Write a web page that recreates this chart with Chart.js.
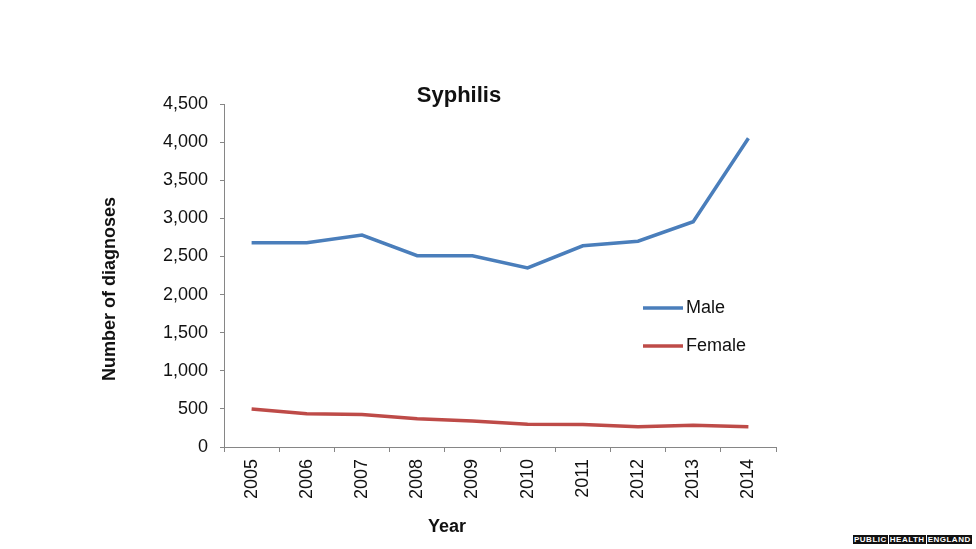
<!DOCTYPE html>
<html>
<head>
<meta charset="utf-8">
<script src="https://cdn.jsdelivr.net/npm/chart.js@4"></script>
<style>
    html, body { margin: 0; padding: 0; background: #fff; }
    #wrap { position: relative; width: 976px; height: 549px; }
    #badge {
        position: absolute; left: 853px; top: 535px;
        font: bold 8px/9px "Liberation Sans", Arial, sans-serif;
        letter-spacing: 0.5px; white-space: nowrap;
    }
    #badge span { background: #111; color: #fff; padding: 0 1px; margin-right: 1px; }
</style>
</head>
<body>
<div id="wrap">
    <canvas id="syphilisChart" width="976" height="549"></canvas>
    <div id="badge"><span>PUBLIC</span><span>HEALTH</span><span>ENGLAND</span></div>
</div>
<script>
const years = ['2005', '2006', '2007', '2008', '2009', '2010', '2011', '2012', '2013', '2014'];
const maleCases = [2680, 2680, 2780, 2510, 2510, 2350, 2640, 2700, 2955, 4050];
const femaleCases = [500, 435, 425, 370, 340, 300, 295, 265, 285, 265];
const yMax = 4500;
const yStep = 500;

const FONT = '"Liberation Sans", Arial, sans-serif';
const AXIS_GREY = '#868686';

// title, axis titles and the in-plot legend, drawn at fixed spots like the original
const annotations = {
    id: 'annotations',
    afterDraw(chart) {
        const ctx = chart.ctx;
        const area = chart.chartArea;
        ctx.save();
        ctx.fillStyle = '#111';

        ctx.font = 'bold 22px ' + FONT;
        ctx.textAlign = 'center';
        ctx.textBaseline = 'alphabetic';
        ctx.fillText('Syphilis', 459, 102);

        ctx.font = 'bold 18px ' + FONT;
        ctx.fillText('Year', 447, 532);

        ctx.save();
        ctx.translate(115, 289);
        ctx.rotate(-Math.PI / 2);
        ctx.fillText('Number of diagnoses', 0, 0);
        ctx.restore();

        ctx.font = '18px ' + FONT;
        ctx.textAlign = 'left';
        ctx.textBaseline = 'middle';
        chart.data.datasets.forEach((ds, i) => {
            const y = area.top + 204 + i * 38;
            const x = area.left + 419;
            ctx.strokeStyle = ds.borderColor;
            ctx.lineWidth = ds.borderWidth;
            ctx.beginPath();
            ctx.moveTo(x, y);
            ctx.lineTo(x + 40, y);
            ctx.stroke();
            ctx.fillStyle = '#111';
            ctx.fillText(ds.label, x + 43, y);
        });
        ctx.restore();
    }
};

new Chart(document.getElementById('syphilisChart'), {
    type: 'line',
    data: {
        labels: years,
        datasets: [
            {
                label: 'Male',
                data: maleCases,
                borderColor: '#4a7ebb',
                borderWidth: 3.5,
                pointRadius: 0,
                tension: 0,
                fill: false
            },
            {
                label: 'Female',
                data: femaleCases,
                borderColor: '#be4b48',
                borderWidth: 3.5,
                pointRadius: 0,
                tension: 0,
                fill: false
            }
        ]
    },
    options: {
        responsive: false,
        animation: false,
        events: [],
        layout: { padding: { left: 0, top: 104, right: 200, bottom: 0 } },
        plugins: {
            legend: { display: false },
            title: { display: false },
            tooltip: { enabled: false }
        },
        scales: {
            x: {
                offset: true,
                grid: {
                    offset: true,
                    drawOnChartArea: false,
                    tickLength: 5,
                    color: AXIS_GREY
                },
                border: { color: AXIS_GREY, width: 1 },
                ticks: {
                    autoSkip: false,
                    minRotation: 90,
                    maxRotation: 90,
                    padding: 7,
                    color: '#111',
                    font: { family: FONT, size: 18 }
                },
                afterFit(scale) { scale.height = 102; }
            },
            y: {
                min: 0,
                max: yMax,
                grid: {
                    drawOnChartArea: false,
                    tickLength: 4,
                    color: AXIS_GREY
                },
                border: { color: AXIS_GREY, width: 1 },
                ticks: {
                    stepSize: yStep,
                    padding: 12,
                    color: '#111',
                    font: { family: FONT, size: 18 },
                    callback: v => v.toLocaleString('en-US')
                },
                afterFit(scale) { scale.width = 224; }
            }
        }
    },
    plugins: [annotations]
});
</script>
</body>
</html>
